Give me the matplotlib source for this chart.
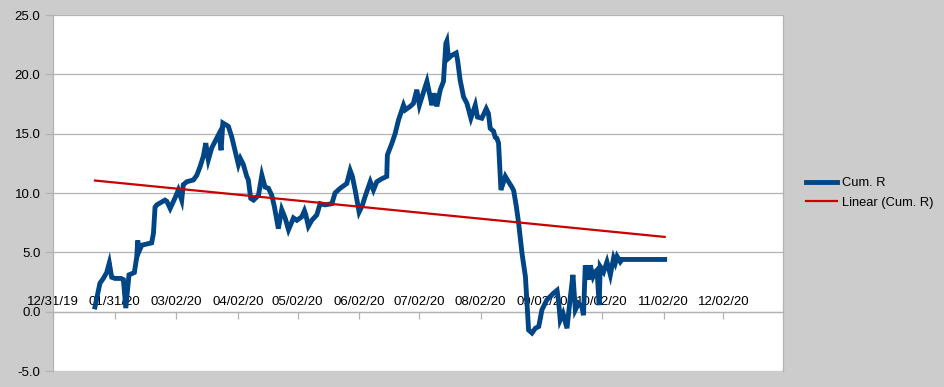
import matplotlib
matplotlib.use("Agg")
import matplotlib.pyplot as plt
import matplotlib.dates as mdates
import pandas as pd
import numpy as np

plt.rcParams['font.family'] = ['Liberation Sans', 'DejaVu Sans']

start = pd.Timestamp('2019-12-31')

# days since 12/31/19
days = [21.1, 23.6, 25.3, 27.0, 28.3, 29.5, 31.2, 34.2, 35.4, 36.6, 38.2, 40.9, 42.1, 42.6, 43.3, 44.6,
        49.6, 50.5, 51.3, 52.2, 56.3, 57.2, 58.9, 61.4, 63.0, 64.7, 65.5, 67.3, 70.6, 72.3, 73.9, 75.6,
        76.8, 78.1, 79.8, 82.3, 83.5, 84.5, 85.4, 87.4, 88.2, 89.9, 91.5, 93.2, 94.2, 95.7, 97.4, 98.2,
        99.4, 100.8, 103.3, 105.0, 106.6, 108.3, 110.0, 111.3, 113.3, 115.0, 116.7, 118.4, 120.9, 122.6,
        125.1, 126.4, 127.1, 128.4, 130.1, 132.6, 134.3, 136.8, 140.2, 141.8, 144.4, 147.7, 149.4, 150.5,
        151.9, 153.9, 155.6, 156.9, 159.5, 161.1, 162.8, 165.3, 167.8, 168.1, 170.4, 172.0, 173.7, 175.4,
        176.2, 177.1, 179.6, 181.2, 182.9, 184.2, 185.5, 188.0, 189.6, 190.5, 191.6, 193.0, 194.7, 196.3,
        197.5, 198.0, 198.8, 200.5, 202.7, 203.4, 204.7, 206.4, 208.1, 210.1, 212.3, 213.4, 215.6, 217.8,
        218.9, 219.8, 221.5, 222.3, 223.2, 224.0, 225.2, 227.4, 229.0, 230.7, 231.6, 232.9, 234.1, 235.8,
        237.5, 239.1, 240.8, 242.5, 244.2, 245.8, 248.3, 251.6, 253.4, 254.2, 255.0, 256.4, 258.4, 260.1,
        261.4, 262.6, 264.2, 265.9, 266.7, 267.6, 269.3, 270.1, 271.5, 272.6, 273.5, 274.6, 275.1, 276.8,
        278.5, 280.2, 281.8, 282.7, 283.6, 285.2, 286.1, 307.5]

cum_r = [0.4, 2.4, 2.8, 3.3, 4.1, 2.9, 2.8, 2.8, 2.7, 0.3, 3.1, 3.3, 4.6, 6.0, 5.1, 5.6,
         5.8, 6.6, 8.8, 9.0, 9.4, 9.3, 8.7, 9.6, 10.25, 9.4, 10.7, 10.95, 11.1, 11.5, 12.2, 13.1,
         14.2, 12.8, 13.8, 14.6, 15.0, 13.6, 15.9, 15.7, 15.6, 14.7, 13.6, 12.4, 12.9, 12.4, 11.4, 11.1,
         9.55, 9.4, 9.8, 11.5, 10.5, 10.4, 9.8, 8.85, 7.0, 8.6, 7.9, 6.9, 7.9, 7.7,
         8.0, 8.5, 8.15, 7.2, 7.7, 8.15, 9.1, 9.0, 9.1, 10.0, 10.4, 10.8, 11.9, 11.4,
         10.25, 8.4, 9.0, 9.7, 10.95, 10.25, 10.95, 11.2, 11.4, 13.2, 14.2, 15.0, 16.15, 17.0,
         17.4, 17.0, 17.3, 17.55, 18.7, 17.4, 18.1, 19.4, 18.1, 17.4, 18.4, 17.3, 18.7, 19.4,
         22.6, 22.8, 21.35, 21.6, 21.8, 21.2, 19.5, 18.1, 17.55, 16.3, 17.4, 16.4, 16.3, 17.1,
         16.7, 15.45, 15.2, 14.7, 14.6, 14.2, 10.25, 11.4, 10.95, 10.5, 10.2, 8.9, 7.45, 4.9,
         2.95, -1.55, -1.8, -1.4, -1.25, 0.15, 1.0, 1.55, 1.8, 0.85, -0.7, -0.15, -1.4, 1.25,
         3.1, 0.15, 0.7, 0.4, -0.3, 3.9, 2.7, 3.9, 2.95, 3.35, 3.5, 0.55, 3.8, 3.35,
         4.2, 3.1, 4.5, 4.1, 4.65, 4.2, 4.4, 4.4]

# linear trendline end points
trend_days = [21.1, 307.5]
trend_vals = [11.05, 6.3]

tick_dates = ['2019-12-31', '2020-01-31', '2020-03-02', '2020-04-02', '2020-05-02', '2020-06-02',
              '2020-07-02', '2020-08-02', '2020-09-02', '2020-10-02', '2020-11-02', '2020-12-02']
y_ticks = [-5, 0, 5, 10, 15, 20, 25]

x = start + pd.to_timedelta(days, unit='D')
xt = start + pd.to_timedelta(trend_days, unit='D')

fig = plt.figure(figsize=(9.44, 3.87), dpi=100, facecolor='#cccccc')
ax = fig.add_axes([53/944, 16/387, 730/944, 356/387])
ax.set_facecolor('white')

grid_c = '#b3b3b3'
for yv in y_ticks:
    ax.axhline(yv, color=grid_c, lw=0.9, zorder=1)

ax.plot(x, cum_r, color='#004586', lw=3.5, label='Cum. R', zorder=3,
        solid_joinstyle='miter')
ax.plot(xt, trend_vals, color='#c80000', lw=1.6, label='Linear (Cum. R)', zorder=4)

ax.set_xlim(start, pd.Timestamp('2021-01-01'))
ax.set_ylim(-5, 25)
ax.set_yticks(y_ticks)
ax.yaxis.set_major_formatter(matplotlib.ticker.FormatStrFormatter('%.1f'))
ax.tick_params(axis='y', direction='out', length=6, color=grid_c, width=0.9,
               labelsize=9.5, pad=3, labelcolor='black')

ax.set_xticks(pd.to_datetime(tick_dates))
ax.xaxis.set_major_formatter(mdates.DateFormatter('%m/%d/%y'))
ax.xaxis.set_ticks_position('top')
ax.xaxis.set_label_position('top')
ax.spines['top'].set_position(('data', 0))
ax.tick_params(axis='x', direction='in', length=5, color=grid_c, width=0.9,
               labelsize=9.5, pad=2.5, labelcolor='black')

for s in ['left', 'right', 'bottom', 'top']:
    ax.spines[s].set_color(grid_c)
    ax.spines[s].set_linewidth(0.9)
ax.spines['bottom'].set_visible(False)

fig.legend(loc='upper left', bbox_to_anchor=(801/944, 1 - 172/387), frameon=False,
           fontsize=9.3, handlelength=2.4, handletextpad=0.35, labelspacing=0.6,
           borderaxespad=0)

fig.savefig('out.png', dpi=100, facecolor=fig.get_facecolor())
